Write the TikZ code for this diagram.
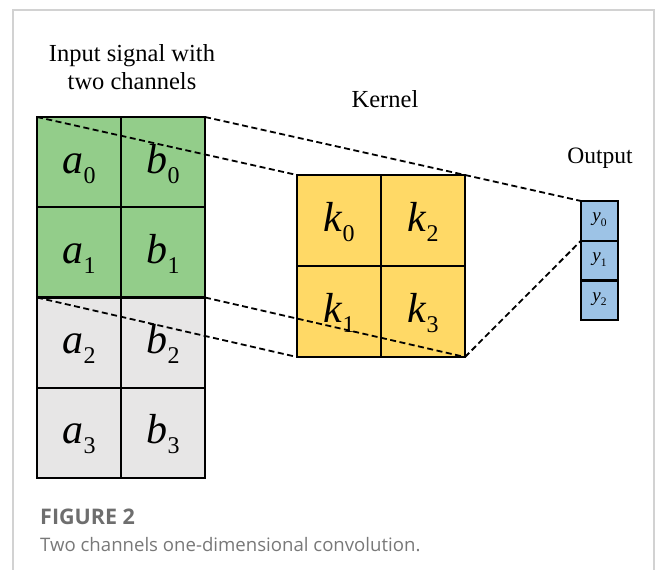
\documentclass[tikz,border=0pt]{standalone}
\usepackage{fontspec}
\setmainfont{Liberation Serif}
\newfontfamily\capfont{Open Sans}
\definecolor{cgreen}{RGB}{147,205,138}
\definecolor{cgray}{RGB}{231,230,230}
\definecolor{cyellow}{RGB}{255,217,102}
\definecolor{cblue}{RGB}{157,195,230}
\definecolor{framegray}{RGB}{210,210,210}
\definecolor{capgray}{RGB}{110,110,110}
\definecolor{capgrayb}{RGB}{120,120,120}
\newcommand\biglbl[2]{\fontsize{42}{42}\selectfont\textit{#1}\raisebox{-10pt}{\fontsize{24}{24}\selectfont #2}}
\newcommand\smalllbl[2]{\fontsize{19}{19}\selectfont\textit{#1}\raisebox{-4.5pt}{\fontsize{11.5}{11.5}\selectfont #2}}
\tikzset{
  cellbox/.style={draw=black, line width=2.3pt, inner sep=0pt, outer sep=0pt,
    minimum width=84pt, minimum height=90.25pt, text height=33pt, text depth=11pt},
  kbox/.style={cellbox, fill=cyellow, minimum height=91pt},
  obox/.style={draw=black, line width=2.2pt, inner sep=0pt, outer sep=0pt, fill=cblue,
    minimum width=37pt, minimum height=39.7pt, text height=10pt, text depth=8pt},
  guide/.style={line width=1.8pt, dash pattern=on 6pt off 3.5pt},
  titletxt/.style={anchor=base, font=\fontsize{24.5}{28}\selectfont, inner sep=0pt},
}
\begin{document}
\begin{tikzpicture}[x=1pt, y=-1pt]
\useasboundingbox (0,0) rectangle (656,570);
\draw[framegray, line width=1.3pt] (13,570) -- (13,10) -- (654,10) -- (654,570);
% titles
\node[titletxt] (t1) at (132,61) {Input signal with};
\node[titletxt] (t2) at (132,89) {two channels};
\node[titletxt] (tk) at (385,107) {Kernel};
\node[titletxt, font=\fontsize{23.5}{28}\selectfont] (to) at (600,163) {Output};
% input grid
\node[cellbox, fill=cgreen] (a0) at (79,162.125) {\biglbl{a}{0}};
\node[cellbox, fill=cgreen] (b0) at (163,162.125) {\biglbl{b}{0}};
\node[cellbox, fill=cgreen] (a1) at (79,252.375) {\biglbl{a}{1}};
\node[cellbox, fill=cgreen] (b1) at (163,252.375) {\biglbl{b}{1}};
\node[cellbox, fill=cgray] (a2) at (79,342.625) {\biglbl{a}{2}};
\node[cellbox, fill=cgray] (b2) at (163,342.625) {\biglbl{b}{2}};
\node[cellbox, fill=cgray] (a3) at (79,432.875) {\biglbl{a}{3}};
\node[cellbox, fill=cgray] (b3) at (163,432.875) {\biglbl{b}{3}};
% kernel
\node[kbox] (k0) at (339,220.5) {\biglbl{k}{0}};
\node[kbox] (k2) at (423,220.5) {\biglbl{k}{2}};
\node[kbox] (k1) at (339,311.5) {\biglbl{k}{1}};
\node[kbox] (k3) at (423,311.5) {\biglbl{k}{3}};
% output
\node[obox] (y0) at (599.5,220.85) {\smalllbl{y}{0}};
\node[obox] (y1) at (599.5,260.55) {\smalllbl{y}{1}};
\node[obox] (y2) at (599.5,300.25) {\smalllbl{y}{2}};
% dashed guides
\draw[guide] (a0.north west) -- (k0.north west);
\draw[guide] (b0.north east) -- (k2.north east);
\draw[guide] (a2.north west) -- (k1.south west);
\draw[guide] (b2.north east) -- (k3.south east);
\draw[guide] (k2.north east) -- (y0.north west);
\draw[guide] (k3.south east) -- (y0.south west);
% caption
\node[anchor=base west, inner sep=0pt, font=\capfont\bfseries\fontsize{21.5}{24}\selectfont, text=capgray] (cap1) at (40,524) {FIGURE 2};
\node[anchor=base west, inner sep=0pt, font=\capfont\fontsize{18.6}{22}\selectfont, text=capgrayb] (cap2) at (40,551) {Two channels one-dimensional convolution.};
\end{tikzpicture}
\end{document}
